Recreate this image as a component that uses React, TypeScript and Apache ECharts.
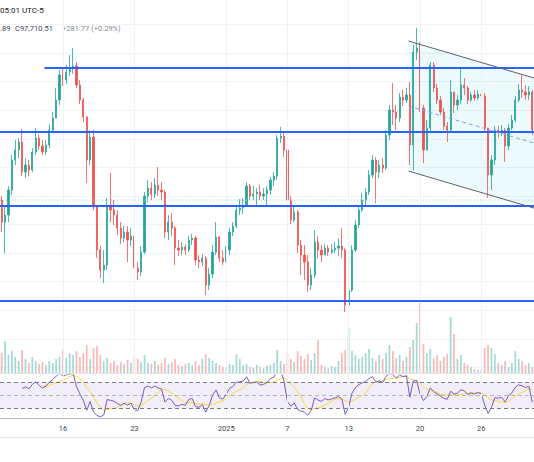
import React, { useEffect, useRef } from "react";
import * as echarts from "echarts";

// 8h candles from Dec 10 2024 (UTC-5) onward
const firstOpen = 97710;
const closes = [
  96170, 96660, 98410, 100510, 101210, 101770, 99670, 100160, 99810, 101070,
  102050, 101490, 101070, 101560, 102610, 103450, 104710, 106460, 106110, 106670,
  106950, 107090, 105760, 104710, 103520, 100510, 102120, 97220, 94210, 92810,
  93160, 97360, 97010, 96660, 95750, 95050, 95470, 94910, 95190, 92950,
  92670, 94070, 97990, 98550, 98130, 98760, 98410, 98270, 95470, 96170,
  95750, 94350, 94210, 94420, 94210, 94910, 95050, 93510, 93370, 93650,
  91760, 92530, 94070, 95120, 93650, 93370, 94210, 95470, 95890, 97010,
  97150, 97360, 98690, 97990, 98130, 98270, 97990, 98130, 98410, 99110,
  99390, 102050, 102190, 101210, 97710, 96310, 96870, 94560, 93860, 93370,
  91760, 92460, 94770, 94210, 93860, 94350, 94070, 94210, 94350, 94490,
  94210, 90360, 91410, 94210, 95960, 97010, 97710, 98270, 99460, 100510,
  99670, 100160, 99950, 102260, 104010, 103870, 103450, 104920, 104710, 105060,
  101560, 108070, 108350, 104150, 101210, 102750, 107160, 105550, 104710, 103870,
  102890, 102610, 105270, 104360, 104710, 105760, 105550, 104710, 105060, 104850,
  105130, 104990, 102750, 99460, 100510, 102610, 102470, 102610, 101490, 102750,
  103310, 104710, 105410, 105270, 105060, 105270, 102610,
];
const highs = [
  97990, 97360, 98690, 100860, 101910, 102050, 102680, 100650, 100510, 101350,
  102750, 102330, 101910, 101910, 103030, 103870, 105550, 106810, 106950, 107160,
  107860, 108350, 107370, 106110, 104850, 103600, 102610, 102610, 97360, 94490,
  94210, 97850, 99600, 97710, 97010, 96170, 95890, 95890, 95750, 95470,
  93370, 94490, 98270, 99110, 98970, 99250, 100020, 98970, 98410, 96660,
  96800, 95890, 94910, 94770, 94630, 95190, 95330, 95190, 93860, 93930,
  93790, 92950, 94560, 96170, 95190, 94210, 94490, 95750, 96170, 97290,
  97780, 97850, 98970, 98830, 98690, 98550, 98760, 98550, 98690, 99320,
  99670, 102260, 102820, 102470, 101210, 97990, 97360, 97010, 94910, 94560,
  93860, 92950, 95610, 95190, 94560, 94630, 94560, 94630, 94770, 95050,
  95750, 94350, 91760, 94560, 96310, 97360, 98200, 98550, 99810, 100860,
  100720, 100510, 100650, 102610, 104360, 105900, 104360, 105200, 105410, 105550,
  105970, 108560, 109750, 108770, 104360, 103310, 107370, 107370, 105830, 104990,
  104150, 103170, 106110, 105270, 105060, 107020, 106250, 105690, 105270, 105410,
  105410, 105410, 105200, 102750, 100860, 102890, 102890, 102960, 102750, 103030,
  103660, 104990, 105830, 106460, 105760, 105690, 105410,
];
const lows = [
  95470, 94000, 96170, 98060, 100160, 100650, 99390, 99250, 99390, 99670,
  100860, 101210, 100860, 100860, 101350, 102470, 103450, 104360, 105690, 105830,
  106390, 106530, 105550, 104430, 103170, 98900, 100160, 97010, 93650, 92250,
  91900, 92810, 96170, 95960, 95260, 94630, 94770, 93370, 94490, 92460,
  92110, 92390, 93930, 97570, 97710, 97850, 97990, 97710, 95050, 94910,
  95190, 93160, 93790, 93860, 93860, 94070, 94560, 93160, 92950, 93090,
  91060, 91410, 92250, 93860, 93370, 93160, 93370, 93860, 95190, 95750,
  96660, 96730, 97290, 97710, 97710, 97220, 97710, 97710, 97290, 98060,
  98690, 99110, 101700, 100720, 97360, 96030, 96170, 94000, 92460, 92110,
  91270, 91410, 92250, 93650, 93370, 93860, 93790, 93930, 94000, 93790,
  93650, 89870, 88400, 91270, 94070, 95750, 96870, 97360, 98060, 99250,
  97500, 99250, 99600, 99810, 101910, 102960, 102610, 103170, 104290, 104500,
  100160, 99810, 107510, 103870, 100300, 101210, 102470, 105270, 104430, 103660,
  102610, 101770, 102470, 103800, 104010, 104430, 105060, 104430, 104570, 104640,
  104710, 104710, 102470, 97850, 98410, 100160, 102050, 102190, 100370, 101210,
  102610, 103170, 104570, 104850, 104710, 104710, 102260,
];
const volumes = [
  2000, 3200, 1800, 2200, 1600, 1200, 2300, 1400, 1000, 1600,
  1200, 900, 1100, 800, 1200, 1000, 1400, 1600, 2300, 1500,
  2000, 1800, 2200, 1600, 2000, 2800, 1400, 2500, 2700, 1800,
  1200, 1500, 1000, 1200, 800, 1100, 900, 1300, 1000, 1700,
  1400, 1100, 1800, 1000, 900, 1200, 800, 1000, 1500, 900,
  1100, 1400, 800, 700, 900, 1000, 800, 1200, 800, 1400,
  1900, 1500, 1200, 1000, 800, 600, 500, 900, 800, 1900,
  1400, 800, 900, 600, 500, 800, 600, 500, 700, 800,
  1000, 2300, 1200, 900, 2000, 1400, 1100, 2200, 1700, 1400,
  1900, 1300, 2000, 3300, 800, 600, 500, 700, 600, 1200,
  2000, 2300, 4500, 2200, 1800, 1400, 1600, 2000, 2400, 1500,
  1200, 1800, 1400, 2000, 2800, 2200, 1500, 1800, 1200, 1600,
  2600, 3300, 5000, 7000, 2900, 2000, 2400, 1500, 1800, 1200,
  1600, 1900, 5600, 3900, 1400, 1800, 1000, 800, 600, 400,
  300, 400, 2500, 2800, 2500, 1900, 1000, 800, 1200, 600,
  1000, 2200, 1400, 1200, 800, 1000, 600,
];
const dayTickIndex = [18, 39, 66, 84, 102, 123, 141];
const dayTickLabels = ["16", "23", "2025", "7", "13", "20", "26"];
const levelPrices = [106950, 102470, 97290, 90640];
const levelStart = [12.6, -0.5, -0.5, -0.5];
const lastPrice = 97710;
const channelX = [119.6, 156.5];
const channelTop = [108840, 106250];
const channelBottom = [99740, 97150];

const N = closes.length;
const X_MIN = -0.5;
const X_MAX = N - 0.5;
const opens = closes.map((_, i) => (i === 0 ? firstOpen : closes[i - 1]));
const categories = closes.map((_, i) => String(i));

function calcRsi(src: number[], p: number): (number | null)[] {
  const out: (number | null)[] = src.map(() => null);
  let g = 0, l = 0;
  for (let i = 1; i <= p; i++) {
    const d = src[i] - src[i - 1];
    if (d > 0) g += d; else l -= d;
  }
  g /= p; l /= p;
  out[p] = l === 0 ? 100 : 100 - 100 / (1 + g / l);
  for (let i = p + 1; i < src.length; i++) {
    const d = src[i] - src[i - 1];
    g = (g * (p - 1) + Math.max(d, 0)) / p;
    l = (l * (p - 1) + Math.max(-d, 0)) / p;
    out[i] = l === 0 ? 100 : 100 - 100 / (1 + g / l);
  }
  return out;
}
const RSI_P = 7;
const rsiVals = calcRsi([firstOpen, ...closes], RSI_P).slice(1);
const rsiMa = rsiVals.map((_, i) => {
  if (i < RSI_P - 1) return null;
  const w = rsiVals.slice(i - RSI_P + 1, i + 1);
  if (w.some((v) => v === null)) return null;
  return (w as number[]).reduce((a, b) => a + b, 0) / RSI_P;
});

const GL = -1.7;
const GR = 0;
const FONT = "Roboto, 'Noto Sans', sans-serif";

function seg(data: number[][], color: string, width: number, type: any, z: number) {
  return {
    type: "line",
    xAxisIndex: 1,
    yAxisIndex: 0,
    data,
    symbol: "none",
    silent: true,
    animation: false,
    z,
    lineStyle: { color, width, type },
  };
}

export default function App() {
  const ref = useRef<HTMLDivElement>(null);
  useEffect(() => {
    if (!ref.current) return;
    const chart = echarts.init(ref.current, undefined, { renderer: "svg" });
    const candleData = closes.map((c, i) => [opens[i], c, lows[i], highs[i]]);
    const volData = volumes.map((v, i) => ({
      value: v,
      itemStyle: { color: closes[i] >= opens[i] ? "#a3d9d4" : "#f8b8b6" },
    }));
    const option: any = {
      animation: false,
      backgroundColor: "#ffffff",
      grid: [
        { left: GL, right: GR, top: 0, height: 367.43 },
        { left: GL, right: GR, top: 300, height: 73 },
        { left: GL, right: GR, top: 375, height: 43 },
        { left: GL, right: GR, top: 0, height: 418 },
      ],
      xAxis: [
        { type: "category", gridIndex: 0, data: categories, show: false, boundaryGap: true },
        { type: "value", gridIndex: 0, min: X_MIN, max: X_MAX, show: false },
        {
          type: "category", gridIndex: 1, data: categories, boundaryGap: true,
          axisLine: { show: true, lineStyle: { color: "#e0e3eb", width: 1 } },
          axisTick: { show: false }, axisLabel: { show: false }, splitLine: { show: false },
        },
        {
          type: "category", gridIndex: 2, data: categories, boundaryGap: true,
          axisLine: { show: true, lineStyle: { color: "#b2b5be", width: 1 } },
          axisTick: { show: false },
          splitLine: { show: false },
          axisLabel: {
            show: true,
            margin: 6,
            fontSize: 7.5,
            fontFamily: FONT,
            color: "#434651",
            interval: (idx: number) => dayTickIndex.indexOf(idx) >= 0,
            formatter: (_v: string, idx: number) => {
              const k = dayTickIndex.indexOf(idx);
              return k >= 0 ? dayTickLabels[k] : "";
            },
          },
        },
        { type: "value", gridIndex: 3, min: X_MIN, max: X_MAX, show: false },
      ],
      yAxis: [
        {
          type: "value", gridIndex: 0, min: 86000, max: 111710, interval: 2000,
          axisLine: { show: false }, axisTick: { show: false }, axisLabel: { show: false },
          splitLine: { show: true, showMaxLine: false, lineStyle: { color: "#f0f3fa", width: 1 } },
        },
        { type: "value", gridIndex: 1, min: 0, max: 7300, show: false, splitLine: { show: false } },
        { type: "value", gridIndex: 2, min: 15, max: 81.2, show: false, splitLine: { show: false } },
        { type: "value", gridIndex: 3, min: 0, max: 1, show: false, splitLine: { show: false } },
      ],
      graphic: [
        {
          type: "text", left: 0, top: 6, silent: true,
          style: { text: "05:01 UTC-5", font: `8px ${FONT}`, fill: "#131722" },
        },
        {
          type: "text", left: 0, top: 24.5, silent: true,
          style: { text: ".89", font: `7.5px ${FONT}`, fill: "#434651" },
        },
        {
          type: "text", left: 15, top: 24.5, silent: true,
          style: { text: "C97,710.51", font: `7.5px ${FONT}`, fill: "#434651" },
        },
        {
          type: "text", left: 62, top: 24.5, silent: true,
          style: { text: "+281.77 (+0.29%)", font: `7.5px ${FONT}`, fill: "#868993" },
        },
        {
          type: "line", silent: true,
          shape: { x1: 0, y1: 437.5, x2: 534, y2: 437.5 },
          style: { stroke: "#e0e3eb", lineWidth: 1 },
        },
      ],
      series: [
        {
          type: "line", xAxisIndex: 4, yAxisIndex: 3, data: [[0, -10]], symbol: "none",
          silent: true, z: 0, lineStyle: { opacity: 0 },
          markLine: {
            silent: true, symbol: ["none", "none"], animation: false,
            label: { show: false },
            lineStyle: { color: "#eef1f6", width: 1, type: "solid" },
            data: dayTickIndex.map((i) => ({ xAxis: i })),
          },
        },
        {
          type: "custom", xAxisIndex: 1, yAxisIndex: 0, silent: true, z: 1,
          data: [[channelX[0], channelTop[0], channelBottom[0], channelX[1], channelTop[1], channelBottom[1]]],
          encode: { x: [0, 3], y: [1, 2, 4, 5] },
          renderItem: (_p: any, api: any) => {
            const tl = api.coord([api.value(0), api.value(1)]);
            const bl = api.coord([api.value(0), api.value(2)]);
            const tr = api.coord([api.value(3), api.value(4)]);
            const br = api.coord([api.value(3), api.value(5)]);
            return {
              type: "polygon",
              shape: { points: [tl, tr, br, bl] },
              style: { fill: "rgba(0,188,212,0.075)" },
            };
          },
        },
        {
          type: "candlestick", xAxisIndex: 0, yAxisIndex: 0, data: candleData,
          barWidth: "50%", z: 3, silent: true,
          itemStyle: {
            color: "#26a69a", color0: "#ef5350",
            borderColor: "#26a69a", borderColor0: "#ef5350", borderWidth: 0.8,
          },
        },
        {
          type: "bar", xAxisIndex: 2, yAxisIndex: 1, data: volData, barWidth: "50%",
          silent: true, z: 2,
        },
        seg([[X_MIN, lastPrice], [X_MAX, lastPrice]], "#8fd3cc", 1, [1, 2], 4),
        ...levelPrices.map((p, k) => seg([[levelStart[k], p], [X_MAX, p]], "#2962ff", 2, "solid", 5)),
        seg([[channelX[0], channelTop[0]], [channelX[1], channelTop[1]]], "#5d606b", 1, "solid", 5),
        seg([[channelX[0], channelBottom[0]], [channelX[1], channelBottom[1]]], "#5d606b", 1, "solid", 5),
        seg(
          [[channelX[0], (channelTop[0] + channelBottom[0]) / 2], [channelX[1], (channelTop[1] + channelBottom[1]) / 2]],
          "#7fa0f0", 1, [4, 3], 5
        ),
        {
          type: "line", xAxisIndex: 3, yAxisIndex: 2, data: rsiMa, symbol: "none",
          silent: true, z: 3, lineStyle: { color: "#f5d93a", width: 1 },
        },
        {
          type: "line", xAxisIndex: 3, yAxisIndex: 2, data: rsiVals, symbol: "none",
          silent: true, z: 4, lineStyle: { color: "#7e57c2", width: 1 },
          markArea: {
            silent: true,
            itemStyle: { color: "rgba(126,87,194,0.1)" },
            data: [[{ yAxis: 30 }, { yAxis: 70 }]],
          },
          markLine: {
            silent: true, symbol: ["none", "none"], label: { show: false },
            data: [
              { yAxis: 70, lineStyle: { color: "#787b86", type: [4, 3], width: 1 } },
              { yAxis: 50, lineStyle: { color: "rgba(120,123,134,0.5)", type: [4, 3], width: 1 } },
              { yAxis: 30, lineStyle: { color: "#787b86", type: [4, 3], width: 1 } },
            ],
          },
        },
      ],
    };
    chart.setOption(option);
    return () => chart.dispose();
  }, []);
  return (
    <div
      ref={ref}
      style={{ position: "fixed", left: 0, top: 0, width: 534, height: 462, background: "#fff" }}
    />
  );
}
